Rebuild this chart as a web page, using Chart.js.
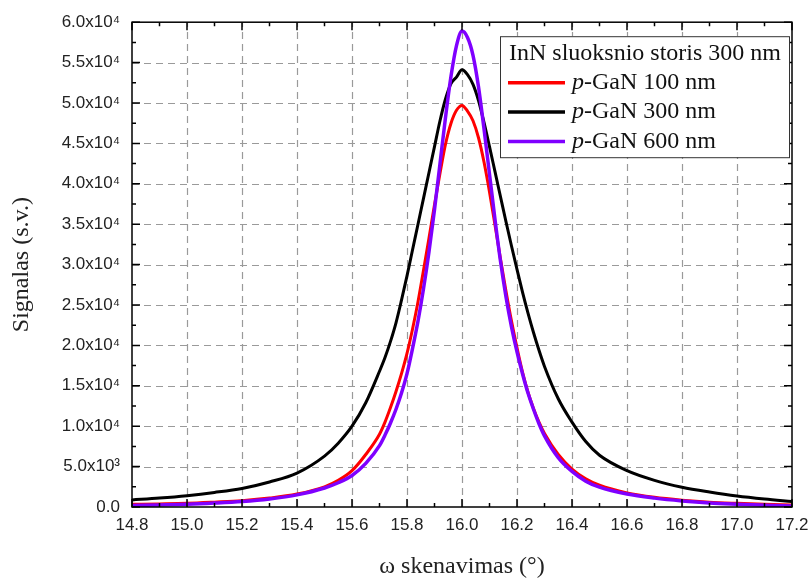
<!DOCTYPE html>
<html><head><meta charset="utf-8">
<script src="https://cdn.jsdelivr.net/npm/chart.js@4/dist/chart.umd.min.js"></script>
<style>html,body{margin:0;padding:0;background:#fff;}#wrap{width:812px;height:581px;}</style>
</head><body><div id="wrap"><canvas id="c" width="812" height="581"></canvas></div>
<script>
// ---- data ----
const omega = [14.8, 14.9, 15.0, 15.1, 15.2, 15.3, 15.4, 15.5, 15.55, 15.6, 15.65, 15.7,
  15.72, 15.74, 15.76, 15.78, 15.80, 15.82, 15.84, 15.86, 15.88, 15.90, 15.92, 15.94, 15.96, 15.98,
  16.00, 16.02, 16.04, 16.06, 16.08, 16.10, 16.12, 16.14, 16.16, 16.18, 16.20, 16.22, 16.24, 16.26, 16.28, 16.30,
  16.35, 16.40, 16.45, 16.50, 16.6, 16.7, 16.8, 16.9, 17.0, 17.1, 17.2];
const pGaN100 = [330, 380, 450, 600, 780, 1100, 1600, 2500, 3300, 4500, 6500, 9000,
  10500, 12300, 14300, 16500, 19000, 22000, 25400, 29300, 33300, 37400, 41300, 44900, 47500, 49100,
  49700, 49000, 47800, 45700, 42700, 39000, 34900, 30700, 26700, 23000, 19700, 16700, 14200, 12200, 10500, 9100,
  6500, 4700, 3500, 2700, 1750, 1200, 850, 600, 450, 330, 250];
const pGaN300 = [870, 1100, 1400, 1800, 2300, 3100, 4200, 6300, 7900, 10000, 12900, 16800,
  18500, 20500, 22800, 25600, 28600, 31800, 35000, 38200, 41400, 44600, 47800, 50500, 52400, 53200,
  54100, 53500, 52300, 50300, 47600, 44600, 41500, 38400, 35300, 32300, 29400, 26600, 24000, 21600, 19400, 17400,
  13400, 10500, 8100, 6400, 4500, 3300, 2450, 1850, 1350, 980, 680];
const pGaN600 = [180, 250, 330, 480, 680, 1000, 1500, 2350, 3000, 3900, 5400, 7600,
  8900, 10400, 12100, 14100, 16500, 19600, 23000, 27000, 31600, 36800, 42500, 48200, 53300, 57100,
  58900, 58100, 55900, 52000, 46800, 41200, 35600, 30400, 26000, 22300, 19200, 16500, 14100, 12100, 10300, 8800,
  6100, 4400, 3200, 2450, 1600, 1100, 750, 500, 350, 230, 120];
const seriesLabels = ['p-GaN 100 nm', 'p-GaN 300 nm', 'p-GaN 600 nm'];
const seriesColors = ['#ff0000', '#000000', '#7f00ff'];
const legendTitle = 'InN sluoksnio storis 300 nm';
const xTickLabels = ['14.8','15.0','15.2','15.4','15.6','15.8','16.0','16.2','16.4','16.6','16.8','17.0','17.2'];
const yTickLabels = ['0.0','5.0x10³','1.0x10⁴','1.5x10⁴','2.0x10⁴','2.5x10⁴','3.0x10⁴','3.5x10⁴','4.0x10⁴','4.5x10⁴','5.0x10⁴','5.5x10⁴','6.0x10⁴'];
const xTitle = 'ω skenavimas (°)';
const yTitle = 'Signalas (s.v.)';

const toPts = arr => arr.map((v, i) => ({x: omega[i], y: v}));
const SERIF = '"Liberation Serif", "Times New Roman", serif';

const gridFrame = {
  id: 'gridFrame',
  beforeDatasetsDraw(chart) {
    const {ctx, chartArea: a, scales: {x, y}} = chart;
    ctx.save();
    ctx.strokeStyle = '#9a9a9a'; ctx.lineWidth = 1.2; ctx.setLineDash([7, 5]);
    x.ticks.forEach(t => {
      const px = Math.round(x.getPixelForValue(t.value)) + 0.5;
      if (px < a.left + 2 || px > a.right - 2) return;
      ctx.beginPath(); ctx.moveTo(px, a.bottom); ctx.lineTo(px, a.top); ctx.stroke();
    });
    y.ticks.forEach(t => {
      const py = Math.round(y.getPixelForValue(t.value)) + 0.5;
      if (py < a.top + 2 || py > a.bottom - 2) return;
      ctx.beginPath(); ctx.moveTo(a.left, py); ctx.lineTo(a.right, py); ctx.stroke();
    });
    ctx.restore();
  },
  afterDatasetsDraw(chart) {
    const {ctx, chartArea: a, scales: {x, y}} = chart;
    ctx.save();
    ctx.strokeStyle = '#000'; ctx.lineWidth = 1.5; ctx.setLineDash([]);
    ctx.strokeRect(a.left, a.top, a.right - a.left, a.bottom - a.top);
    const xt = x.ticks.map(t => t.value), yt = y.ticks.map(t => t.value);
    const drawX = (v, len) => {
      const px = x.getPixelForValue(v);
      ctx.beginPath(); ctx.moveTo(px, a.bottom); ctx.lineTo(px, a.bottom - len);
      ctx.moveTo(px, a.top); ctx.lineTo(px, a.top + len); ctx.stroke();
    };
    const drawY = (v, len) => {
      const py = y.getPixelForValue(v);
      ctx.beginPath(); ctx.moveTo(a.left, py); ctx.lineTo(a.left + len, py);
      ctx.moveTo(a.right, py); ctx.lineTo(a.right - len, py); ctx.stroke();
    };
    xt.forEach((v, i) => { drawX(v, 8); if (i < xt.length - 1) drawX((v + xt[i + 1]) / 2, 4); });
    yt.forEach((v, i) => { drawY(v, 8); if (i < yt.length - 1) drawY((v + yt[i + 1]) / 2, 4); });
    ctx.restore();
  },
  afterDraw(chart) {
    const {ctx, chartArea: a} = chart;
    const fs = 24;
    ctx.save();
    const bx = a.right - 292, by = a.top + 14, bw = 289, bh = 121;
    ctx.fillStyle = '#fff'; ctx.fillRect(bx, by, bw, bh);
    ctx.strokeStyle = '#333'; ctx.lineWidth = 1; ctx.strokeRect(bx + 0.5, by + 0.5, bw, bh);
    ctx.fillStyle = '#111'; ctx.textBaseline = 'middle'; ctx.textAlign = 'left';
    ctx.font = fs + 'px ' + SERIF;
    ctx.fillText(legendTitle, bx + 9, by + 18);
    seriesLabels.forEach((lab, i) => {
      const cy = by + 46.5 + i * 29.4;
      ctx.strokeStyle = seriesColors[i]; ctx.lineWidth = 3.5;
      ctx.beginPath(); ctx.moveTo(bx + 8, cy); ctx.lineTo(bx + 65, cy); ctx.stroke();
      let tx = bx + 72;
      ctx.font = 'italic ' + fs + 'px ' + SERIF;
      const first = lab.charAt(0);
      ctx.fillText(first, tx, cy);
      tx += ctx.measureText(first).width;
      ctx.font = fs + 'px ' + SERIF;
      ctx.fillText(lab.slice(1), tx, cy);
    });
    ctx.restore();
  }
};

const mk = (i, data, w, order) => ({
  label: seriesLabels[i], data: toPts(data), borderColor: seriesColors[i], backgroundColor: seriesColors[i],
  borderWidth: w, pointRadius: 0, cubicInterpolationMode: 'monotone', fill: false, order: order
});

new Chart(document.getElementById('c'), {
  type: 'line',
  data: { datasets: [mk(0, pGaN100, 3, 3), mk(1, pGaN300, 3, 2), mk(2, pGaN600, 3.5, 1)] },
  options: {
    responsive: false, animation: false, devicePixelRatio: 1,
    layout: { padding: { left: 0, right: 20, top: 22, bottom: 0 } },
    plugins: { legend: { display: false }, tooltip: { enabled: false } },
    scales: {
      x: {
        type: 'linear', min: 14.8, max: 17.2,
        ticks: { stepSize: 0.2, padding: 8, color: '#222', autoSkip: false, maxRotation: 0,
          font: { family: '"Liberation Sans", Arial, sans-serif', size: 17 },
          callback: (v, i) => xTickLabels[i] },
        grid: { display: false, drawTicks: false }, border: { display: false },
        title: { display: true, text: xTitle, color: '#222', padding: { top: 0, bottom: 0 },
          font: { family: SERIF, size: 24 } },
        afterFit: s => { s.height = 74; s.paddingRight = 0; s.paddingLeft = 0; }
      },
      y: {
        min: 0, max: 60000,
        ticks: { stepSize: 5000, padding: 12, color: '#222', autoSkip: false,
          font: { family: '"Liberation Sans", Arial, sans-serif', size: 17 },
          callback: (v, i) => yTickLabels[i] },
        grid: { display: false, drawTicks: false }, border: { display: false },
        title: { display: true, text: yTitle, color: '#222', padding: { top: 7, bottom: 0 },
          font: { family: SERIF, size: 24 } },
        afterFit: s => { s.width = 132; }
      }
    }
  },
  plugins: [gridFrame]
});
</script></body></html>
